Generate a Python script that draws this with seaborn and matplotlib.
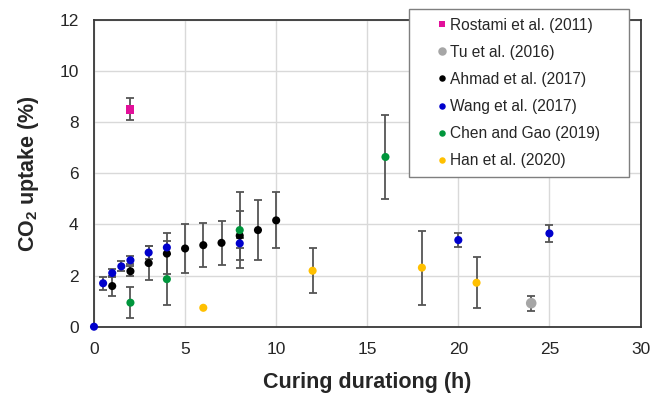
import matplotlib
matplotlib.use("Agg")
import matplotlib.pyplot as plt
import seaborn as sns
import pandas as pd
import numpy as np

# ---- data ----
studies = ["Rostami et al. (2011)", "Tu et al. (2016)", "Ahmad et al. (2017)",
           "Wang et al. (2017)", "Chen and Gao (2019)", "Han et al. (2020)"]
colors = ["#E2109A", "#A6A6A6", "#000000", "#0000CC", "#00963C", "#FFC000"]

rostami_x = [2]
rostami_y = [8.50]
rostami_e = [0.43]

tu_x = [24]
tu_y = [0.92]
tu_e = [0.30]

ahmad_x = [1, 2, 3, 4, 5, 6, 7, 8, 9, 10]
ahmad_y = [1.59, 2.17, 2.49, 2.86, 3.06, 3.19, 3.28, 3.56, 3.78, 4.16]
ahmad_e = [0.40, 0.20, 0.68, 0.80, 0.96, 0.87, 0.87, 0.96, 1.17, 1.10]

wang_x = [0, 0.5, 1, 1.5, 2, 3, 4, 8, 20, 25]
wang_y = [0.00, 1.70, 2.10, 2.36, 2.60, 2.90, 3.10, 3.26, 3.39, 3.65]
wang_e = [0.00, 0.25, 0.17, 0.20, 0.15, 0.25, 0.25, 0.20, 0.29, 0.32]

chen_x = [2, 4, 8, 16]
chen_y = [0.94, 1.86, 3.78, 6.64]
chen_e = [0.60, 1.00, 1.50, 1.63]

han_x = [6, 12, 18, 21]
han_y = [0.74, 2.19, 2.31, 1.72]
han_e = [0.00, 0.87, 1.45, 1.00]

x_ticks = [0, 5, 10, 15, 20, 25, 30]
y_ticks = [0, 2, 4, 6, 8, 10, 12]

series = [(rostami_x, rostami_y, rostami_e), (tu_x, tu_y, tu_e),
          (ahmad_x, ahmad_y, ahmad_e), (wang_x, wang_y, wang_e),
          (chen_x, chen_y, chen_e), (han_x, han_y, han_e)]

rows = []
for name, (xs, ys, es) in zip(studies, series):
    for xv, yv, ev in zip(xs, ys, es):
        rows.append({"Study": name, "x": xv, "y": yv, "err": ev})
df = pd.DataFrame(rows)

# ---- style ----
sns.set_style("white")
plt.rcParams["font.family"] = ["Liberation Sans", "DejaVu Sans"]
plt.rcParams["mathtext.fontset"] = "custom"
plt.rcParams["mathtext.rm"] = "Liberation Sans"
plt.rcParams["mathtext.bf"] = "Liberation Sans:bold"

fig = plt.figure(figsize=(6.62, 3.97), dpi=100)
ax = fig.add_axes([94 / 662, 1 - 326.7 / 397, 546.5 / 662, 306.7 / 397])

# error bars
for name, (xs, ys, es) in zip(studies, series):
    sub = df[df["Study"] == name]
    mask = sub["err"] > 0
    if mask.any():
        ax.errorbar(sub["x"][mask], sub["y"][mask], yerr=sub["err"][mask],
                    fmt="none", ecolor="#555555", elinewidth=1.3,
                    capsize=2.6, capthick=1.3, zorder=2)

markers = {s: ("s" if s.startswith("Rostami") else "o") for s in studies}
sizes = {s: (58 if s.startswith("Tu") else 34) for s in studies}
palette = dict(zip(studies, colors))
sns.scatterplot(data=df, x="x", y="y", hue="Study", style="Study", size="Study",
                hue_order=studies, style_order=studies, size_order=studies,
                palette=palette, markers=markers, sizes=sizes, linewidth=0,
                ax=ax, zorder=3, clip_on=False)

ax.set_xlim(0, 30)
ax.set_ylim(0, 12)
ax.set_xticks(x_ticks)
ax.set_yticks(y_ticks)
ax.grid(True, color="#D9D9D9", linewidth=1.0, zorder=0)
ax.set_axisbelow(True)
for sp in ax.spines.values():
    sp.set_visible(True)
    sp.set_color("#383838")
    sp.set_linewidth(1.3)
ax.tick_params(axis="both", direction="in", length=5, width=1.3,
               color="#383838", labelsize=12.5, pad=11)

ax.set_xlabel("Curing durationg (h)", fontsize=15.5, fontweight="bold", labelpad=11)
ax.set_ylabel(r"CO$_\mathbf{2}$ uptake (%)", fontsize=15.5, fontweight="bold", labelpad=13)

handles, labels = ax.get_legend_handles_labels()
leg = ax.legend(handles, labels, loc="upper left",
                bbox_to_anchor=(0.5764, 1.0359, 0.4026, 0), mode="expand",
                borderaxespad=0, fontsize=11.2, labelspacing=0.78,
                handlelength=3.1, handletextpad=-1.0, borderpad=0.55,
                markerscale=0.8, frameon=True, fancybox=False, framealpha=1)
leg.get_frame().set_edgecolor("#7F7F7F")
leg.get_frame().set_linewidth(1.0)
leg.set_zorder(10)

fig.savefig("out.png", dpi=100)
